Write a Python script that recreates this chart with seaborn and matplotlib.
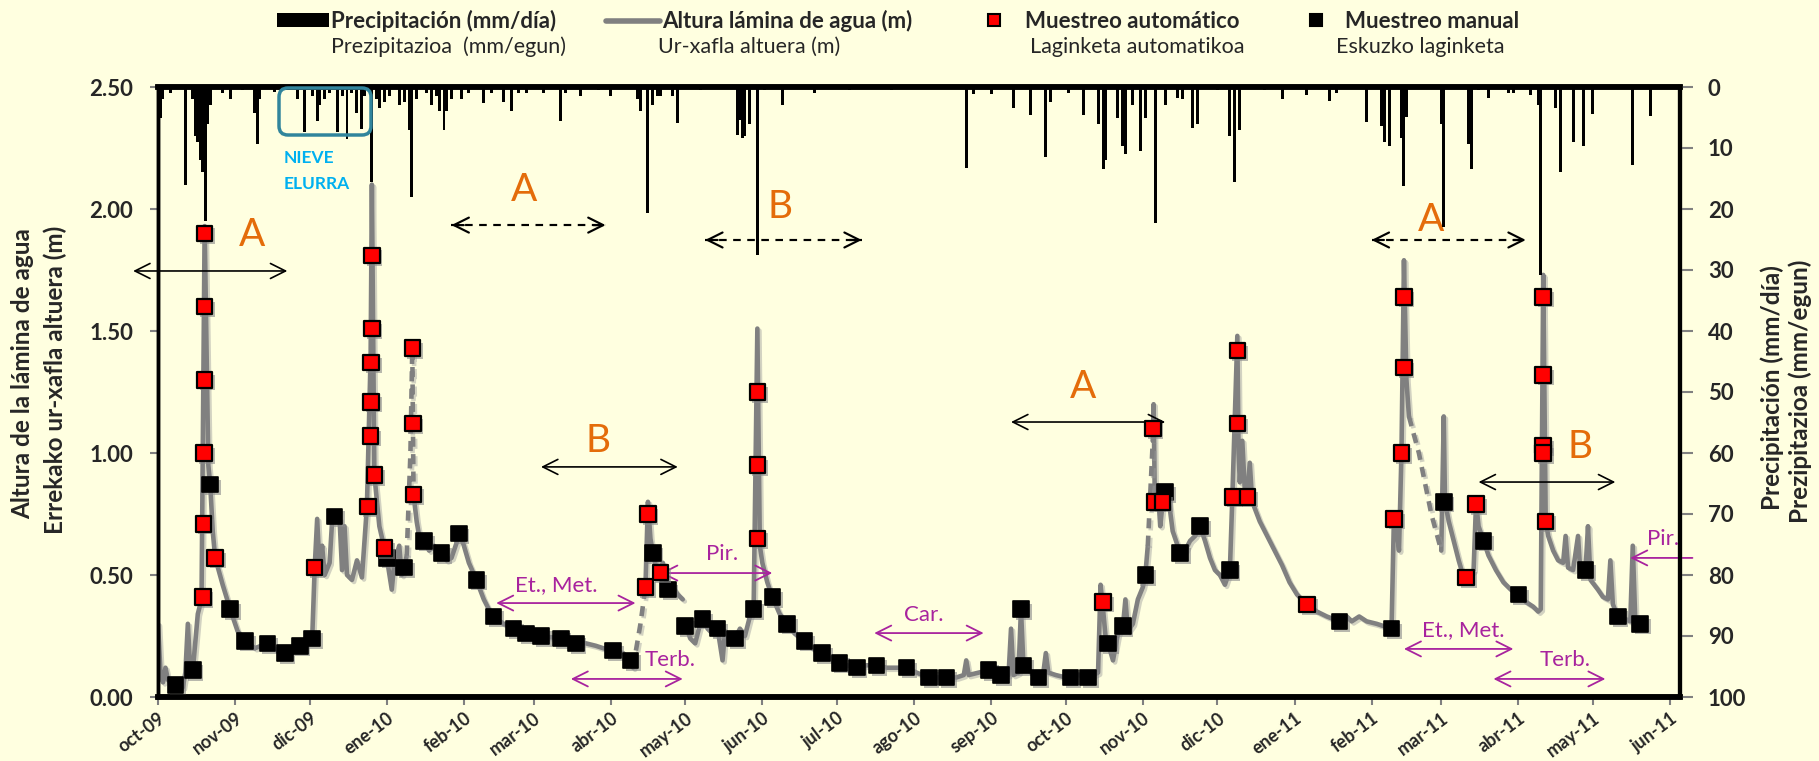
import pandas as pd
import numpy as np
import matplotlib
matplotlib.use("Agg")
import matplotlib.pyplot as plt
import matplotlib.patheffects as pe
from matplotlib.patches import FancyBboxPatch, Rectangle
from matplotlib.lines import Line2D
from matplotlib.transforms import IdentityTransform
from matplotlib import font_manager as fm
import seaborn as sns

# ------------------------------------------------------------------ data
month_ticks = pd.date_range("2009-10-01", "2011-06-01", freq="MS")
month_labels = ["oct-09", "nov-09", "dic-09", "ene-10", "feb-10", "mar-10", "abr-10",
                "may-10", "jun-10", "jul-10", "ago-10", "sep-10", "oct-10", "nov-10",
                "dic-10", "ene-11", "feb-11", "mar-11", "abr-11", "may-11", "jun-11"]

# water level (m) - solid stretches
level_dates = [
    "2009-10-01", "2009-10-02", "2009-10-03", "2009-10-04", "2009-10-05", "2009-10-08",
    "2009-10-11", "2009-10-12", "2009-10-13", "2009-10-14", "2009-10-15", "2009-10-17",
    "2009-10-18 12:00", "2009-10-19 18:00", "2009-10-21 06:00", "2009-10-22", "2009-10-23",
    "2009-10-24", "2009-10-27", "2009-10-30", "2009-11-02", "2009-11-05", "2009-11-09",
    "2009-11-14", "2009-11-18", "2009-11-21", "2009-11-24", "2009-11-27", "2009-11-30",
    "2009-12-02", "2009-12-03", "2009-12-04", "2009-12-05", "2009-12-06", "2009-12-07",
    "2009-12-09", "2009-12-10", "2009-12-11", "2009-12-13", "2009-12-14", "2009-12-15",
    "2009-12-16", "2009-12-18", "2009-12-20", "2009-12-22", "2009-12-24", "2009-12-25 12:00",
    "2009-12-26", "2009-12-27", "2009-12-29", "2009-12-31", "2010-01-01", "2010-01-03",
    "2010-01-04", "2010-01-06", "2010-01-07", "2010-01-08", "2010-01-09",
    "2010-01-11 18:00", "2010-01-13", "2010-01-14", "2010-01-16", "2010-01-18", "2010-01-20",
    "2010-01-23", "2010-01-25", "2010-01-27", "2010-01-29", "2010-01-30", "2010-02-01",
    "2010-02-03", "2010-02-06", "2010-02-09", "2010-02-11", "2010-02-13", "2010-02-17",
    "2010-02-21", "2010-02-26", "2010-03-04", "2010-03-08", "2010-03-12", "2010-03-18",
    "2010-03-22", "2010-03-26", "2010-03-29", "2010-04-02", "2010-04-06", "2010-04-09",
    "2010-04-10",
    "2010-04-15", "2010-04-16", "2010-04-17", "2010-04-18", "2010-04-20", "2010-04-21",
    "2010-04-22", "2010-04-24", "2010-04-26", "2010-04-28", "2010-04-30",
    "2010-05-01", "2010-05-03", "2010-05-05", "2010-05-07", "2010-05-08", "2010-05-10",
    "2010-05-12", "2010-05-14", "2010-05-16", "2010-05-17", "2010-05-19", "2010-05-21",
    "2010-05-23", "2010-05-25", "2010-05-27", "2010-05-28 12:00", "2010-05-30",
    "2010-05-31", "2010-06-01", "2010-06-03", "2010-06-05", "2010-06-08", "2010-06-11",
    "2010-06-14", "2010-06-18", "2010-06-21", "2010-06-25", "2010-06-28", "2010-07-02",
    "2010-07-05", "2010-07-09", "2010-07-13", "2010-07-17", "2010-07-21", "2010-07-25",
    "2010-07-29", "2010-08-02", "2010-08-07", "2010-08-10", "2010-08-14", "2010-08-18",
    "2010-08-21", "2010-08-22", "2010-08-23", "2010-08-27", "2010-08-31", "2010-09-03",
    "2010-09-05", "2010-09-08", "2010-09-09", "2010-09-10", "2010-09-12", "2010-09-13",
    "2010-09-14", "2010-09-16", "2010-09-18", "2010-09-20", "2010-09-22", "2010-09-23",
    "2010-09-24", "2010-09-27", "2010-10-01", "2010-10-03", "2010-10-06", "2010-10-10",
    "2010-10-14", "2010-10-15", "2010-10-16", "2010-10-17", "2010-10-18", "2010-10-20",
    "2010-10-22", "2010-10-24", "2010-10-25", "2010-10-26", "2010-10-28", "2010-10-30",
    "2010-11-01", "2010-11-02", "2010-11-03",
    "2010-11-05", "2010-11-05 08:00", "2010-11-05 20:00", "2010-11-07", "2010-11-08",
    "2010-11-09", "2010-11-10", "2010-11-11", "2010-11-13", "2010-11-16", "2010-11-18",
    "2010-11-20", "2010-11-22", "2010-11-24", "2010-11-26", "2010-11-28", "2010-11-30",
    "2010-12-02", "2010-12-04", "2010-12-06", "2010-12-07", "2010-12-09", "2010-12-09 12:00",
    "2010-12-10", "2010-12-11", "2010-12-12", "2010-12-13", "2010-12-14", "2010-12-15",
    "2010-12-18", "2010-12-21", "2010-12-24", "2010-12-27", "2010-12-30", "2011-01-02",
    "2011-01-06", "2011-01-10", "2011-01-14", "2011-01-19", "2011-01-22", "2011-01-24",
    "2011-01-27", "2011-01-30", "2011-02-03", "2011-02-06", "2011-02-09", "2011-02-10",
    "2011-02-11", "2011-02-12", "2011-02-13", "2011-02-14", "2011-02-15", "2011-02-16",
    "2011-03-01", "2011-03-02", "2011-03-02 12:00", "2011-03-04", "2011-03-06", "2011-03-08",
    "2011-03-10", "2011-03-12", "2011-03-14", "2011-03-15", "2011-03-16", "2011-03-18",
    "2011-03-20", "2011-03-23", "2011-03-26", "2011-03-29", "2011-04-01", "2011-04-04",
    "2011-04-07", "2011-04-09", "2011-04-10", "2011-04-11", "2011-04-12", "2011-04-13",
    "2011-04-15", "2011-04-17", "2011-04-19", "2011-04-20", "2011-04-21", "2011-04-23",
    "2011-04-25", "2011-04-26", "2011-04-28", "2011-04-29", "2011-04-30", "2011-05-03",
    "2011-05-05", "2011-05-07", "2011-05-08", "2011-05-09", "2011-05-11", "2011-05-14",
    "2011-05-16", "2011-05-17", "2011-05-18", "2011-05-20", "2011-05-21",
]
level_m = [
    0.30, 0.10, 0.06, 0.12, 0.07, 0.05, 0.04, 0.10, 0.30, 0.10, 0.11, 0.34,
    0.40, 1.93, 0.95, 0.87, 0.68, 0.57, 0.46, 0.36, 0.27, 0.23, 0.20, 0.22, 0.19, 0.17,
    0.20, 0.21, 0.25, 0.24, 0.53, 0.73, 0.52, 0.62, 0.50, 0.55, 0.72, 0.74, 0.73, 0.52,
    0.70, 0.50, 0.48, 0.56, 0.49, 0.78, 1.40, 2.10, 0.91, 0.70, 0.61, 0.57, 0.44, 0.55,
    0.62, 0.50, 0.53, 0.58,
    0.83, 0.72, 0.66, 0.64, 0.60, 0.62, 0.59, 0.56, 0.57, 0.63, 0.68, 0.62, 0.55, 0.48,
    0.40, 0.36, 0.33, 0.30, 0.28, 0.26, 0.25, 0.245, 0.24, 0.22, 0.22, 0.21, 0.20, 0.19,
    0.18, 0.15, 0.12,
    0.45, 0.80, 0.65, 0.59, 0.50, 0.51, 0.55, 0.44, 0.45, 0.42, 0.40,
    0.30, 0.24, 0.22, 0.30, 0.32, 0.28, 0.26, 0.28, 0.15, 0.27, 0.25, 0.24, 0.28, 0.25,
    0.33, 0.36, 1.51, 0.62, 0.55, 0.47, 0.41, 0.34, 0.30, 0.26, 0.23, 0.20, 0.18, 0.16,
    0.14, 0.13, 0.12, 0.13, 0.13, 0.12, 0.12, 0.12, 0.10, 0.08, 0.08, 0.08, 0.08, 0.09,
    0.15, 0.09, 0.10, 0.11, 0.10, 0.09, 0.09, 0.28, 0.09, 0.10, 0.36, 0.13, 0.11, 0.09,
    0.08, 0.10, 0.18, 0.10, 0.09, 0.08, 0.08, 0.09, 0.08, 0.10, 0.46, 0.36, 0.25, 0.22,
    0.15, 0.26, 0.29, 0.40, 0.27, 0.30, 0.40, 0.45, 0.50, 0.62,
    1.05, 1.20, 0.80, 0.86, 0.70, 0.80, 0.84, 0.84, 0.68, 0.59, 0.60, 0.64, 0.66, 0.70,
    0.64, 0.57, 0.52, 0.50, 0.46, 0.52, 0.82, 1.48, 1.00, 0.88, 1.05, 0.85, 0.82, 0.96,
    0.80, 0.72, 0.66, 0.60, 0.54, 0.47, 0.42, 0.38, 0.35, 0.33, 0.31, 0.33, 0.31, 0.33,
    0.31, 0.30, 0.29, 0.28, 0.75, 0.70, 0.60, 1.00, 1.79, 1.30, 1.15,
    0.60, 1.15, 0.80, 0.72, 0.64, 0.56, 0.49, 0.50, 0.52, 0.80, 0.70, 0.64, 0.58, 0.52,
    0.47, 0.44, 0.42, 0.39, 0.37, 0.35, 0.36, 1.73, 0.72, 0.66, 0.60, 0.56, 0.55, 0.66,
    0.53, 0.52, 0.66, 0.50, 0.52, 0.70, 0.48, 0.44, 0.41, 0.40, 0.56, 0.38, 0.33, 0.32,
    0.31, 0.62, 0.32, 0.30, 0.30,
]
# first date of each continuous (solid) stretch of the record
segment_starts = ["2009-10-01", "2010-01-11 18:00", "2010-04-15", "2010-05-01",
                  "2010-11-05", "2011-03-01"]

# water level - dashed (gap-filled) stretches
dash_dates = ["2010-01-09", "2010-01-10 12:00", "2010-01-11 06:00", "2010-01-11 18:00",
              "2010-04-10", "2010-04-13", "2010-04-15",
              "2010-11-03", "2010-11-05",
              "2011-02-16", "2011-02-20", "2011-02-25", "2011-03-01"]
dash_m = [0.58, 1.00, 1.43, 0.83,
          0.12, 0.30, 0.45,
          0.62, 1.05,
          1.15, 1.00, 0.75, 0.60]
dash_seg = [0, 0, 0, 0, 1, 1, 1, 2, 2, 3, 3, 3, 3]

# automatic sampling (red)
auto_dates = ["2009-10-19", "2009-10-19 06:00", "2009-10-19 12:00", "2009-10-19 18:00",
              "2009-10-19 18:00", "2009-10-19 18:00", "2009-10-24", "2009-12-03",
              "2009-12-24 12:00", "2009-12-25 12:00", "2009-12-25 18:00", "2009-12-25 18:00",
              "2009-12-26", "2009-12-26", "2009-12-27", "2009-12-31",
              "2010-01-11 06:00", "2010-01-11 12:00", "2010-01-11 18:00",
              "2010-04-15", "2010-04-16", "2010-04-21",
              "2010-05-30", "2010-05-30", "2010-05-30",
              "2010-10-16", "2010-11-05", "2010-11-06", "2010-11-09",
              "2010-12-07", "2010-12-09", "2010-12-09", "2010-12-13",
              "2011-01-06", "2011-02-10", "2011-02-13", "2011-02-14", "2011-02-14",
              "2011-03-11", "2011-03-15", "2011-04-11", "2011-04-11", "2011-04-11",
              "2011-04-11", "2011-04-12"]
auto_m = [0.41, 0.71, 1.00, 1.30, 1.60, 1.90, 0.57, 0.53,
          0.78, 1.07, 1.21, 1.37, 1.51, 1.81, 0.91, 0.61,
          1.43, 1.12, 0.83,
          0.45, 0.75, 0.51,
          0.65, 0.95, 1.25,
          0.39, 1.10, 0.80, 0.80,
          0.82, 1.42, 1.12, 0.82,
          0.38, 0.73, 1.00, 1.35, 1.64,
          0.49, 0.79, 1.64, 1.32, 1.03,
          1.00, 0.72]

# manual sampling (black)
man_dates = ["2009-10-08", "2009-10-15", "2009-10-22", "2009-10-30", "2009-11-05",
             "2009-11-14", "2009-11-21", "2009-11-27", "2009-12-02", "2009-12-11",
             "2010-01-01", "2010-01-08", "2010-01-16", "2010-01-23", "2010-01-30",
             "2010-02-06", "2010-02-13", "2010-02-21", "2010-02-26", "2010-03-04",
             "2010-03-12", "2010-03-18", "2010-04-02", "2010-04-09", "2010-04-18",
             "2010-04-24", "2010-05-01", "2010-05-08", "2010-05-14", "2010-05-21",
             "2010-05-28 12:00", "2010-06-05", "2010-06-11", "2010-06-18", "2010-06-25",
             "2010-07-02", "2010-07-09", "2010-07-17", "2010-07-29", "2010-08-07",
             "2010-08-14", "2010-08-31", "2010-09-05", "2010-09-13", "2010-09-14",
             "2010-09-20", "2010-10-03", "2010-10-10", "2010-10-18", "2010-10-24",
             "2010-11-02", "2010-11-10", "2010-11-16", "2010-11-24", "2010-12-06",
             "2011-01-19", "2011-02-09", "2011-03-02", "2011-03-18", "2011-04-01",
             "2011-04-28", "2011-05-11", "2011-05-20"]
man_m = [0.05, 0.11, 0.87, 0.36, 0.23, 0.22, 0.18, 0.21, 0.24, 0.74,
         0.57, 0.53, 0.64, 0.59, 0.67, 0.48, 0.33, 0.28, 0.26, 0.25,
         0.24, 0.22, 0.19, 0.15, 0.59, 0.44, 0.29, 0.32, 0.28, 0.24,
         0.36, 0.41, 0.30, 0.23, 0.18, 0.14, 0.12, 0.13, 0.12, 0.08,
         0.08, 0.11, 0.09, 0.36, 0.13, 0.08, 0.08, 0.08, 0.22, 0.29,
         0.50, 0.84, 0.59, 0.70, 0.52, 0.31, 0.28, 0.80, 0.64, 0.42,
         0.52, 0.33, 0.30]

# daily precipitation (mm/dia)
prec_dates = ["2009-10-01", "2009-10-02", "2009-10-03", "2009-10-06", "2009-10-12",
              "2009-10-15", "2009-10-16", "2009-10-17", "2009-10-18", "2009-10-19",
              "2009-10-20", "2009-10-21", "2009-10-22", "2009-10-27", "2009-10-30",
              "2009-11-04", "2009-11-09", "2009-11-10", "2009-11-11", "2009-11-17",
              "2009-11-26", "2009-11-29", "2009-12-02", "2009-12-04", "2009-12-05",
              "2009-12-07", "2009-12-09", "2009-12-12", "2009-12-14", "2009-12-16",
              "2009-12-18", "2009-12-20", "2009-12-22", "2009-12-23", "2009-12-26",
              "2009-12-28", "2009-12-29", "2009-12-31", "2010-01-02", "2010-01-06",
              "2010-01-08", "2010-01-10", "2010-01-11", "2010-01-13", "2010-01-17",
              "2010-01-19", "2010-01-21", "2010-01-22", "2010-01-24", "2010-01-25",
              "2010-01-27", "2010-01-31", "2010-02-03", "2010-02-09", "2010-02-12",
              "2010-02-17", "2010-02-20", "2010-02-23", "2010-02-26", "2010-03-05",
              "2010-03-12", "2010-03-14", "2010-03-20", "2010-03-27", "2010-04-01",
              "2010-04-12", "2010-04-13", "2010-04-16", "2010-04-18", "2010-04-20",
              "2010-04-21", "2010-04-26", "2010-04-28", "2010-05-07", "2010-05-22",
              "2010-05-23", "2010-05-24", "2010-05-25", "2010-05-27", "2010-05-30",
              "2010-06-02", "2010-06-09", "2010-06-22", "2010-07-06", "2010-07-23",
              "2010-08-22", "2010-08-25", "2010-09-01", "2010-09-10", "2010-09-17",
              "2010-09-23", "2010-09-25", "2010-10-02", "2010-10-08", "2010-10-14",
              "2010-10-16", "2010-10-17", "2010-10-22", "2010-10-24", "2010-10-25",
              "2010-10-28", "2010-10-31", "2010-11-02", "2010-11-06", "2010-11-10",
              "2010-11-15", "2010-11-17", "2010-11-21", "2010-11-23", "2010-12-01",
              "2010-12-06", "2010-12-08", "2010-12-10", "2010-12-20", "2010-12-27",
              "2011-01-06", "2011-01-15", "2011-01-18", "2011-01-30", "2011-02-05",
              "2011-02-06", "2011-02-08", "2011-02-13", "2011-02-14", "2011-02-15",
              "2011-03-01", "2011-03-02", "2011-03-12", "2011-03-13", "2011-03-16",
              "2011-03-20", "2011-03-28", "2011-03-30", "2011-04-06", "2011-04-09",
              "2011-04-10", "2011-04-16", "2011-04-18", "2011-04-23", "2011-04-27",
              "2011-05-01", "2011-05-17", "2011-05-24"]
prec_mm = [20.0, 5.0, 2.0, 1.0, 16.0,
           2.0, 8.0, 9.0, 12.0, 14.0,
           22.0, 6.0, 3.0, 1.0, 2.0,
           0.5, 4.3, 9.4, 2.0, 0.8,
           2.0, 7.4, 1.5, 5.6, 3.0,
           2.0, 1.0, 7.4, 1.5, 8.6,
           1.0, 4.2, 6.9, 1.5, 15.6,
           2.0, 3.5, 2.5, 1.5, 3.0,
           2.5, 7.0, 18.0, 2.0, 1.0,
           3.0, 1.5, 4.0, 7.0, 4.0,
           2.0, 2.0, 1.0, 2.7, 1.0,
           2.5, 4.0, 1.0, 1.0, 1.0,
           5.6, 1.0, 1.5, 0.5, 1.5,
           2.0, 4.0, 20.7, 3.0, 1.5,
           1.5, 1.5, 5.9, 0.5, 7.8,
           5.4, 8.3, 8.0, 6.0, 27.5,
           0.5, 2.9, 1.0, 0.5, 0.5,
           13.3, 1.2, 1.2, 3.5, 4.6,
           11.5, 2.5, 1.0, 4.6, 6.0,
           13.4, 12.0, 5.0, 9.6, 11.0,
           3.0, 10.5, 5.0, 22.3, 3.0,
           1.8, 2.0, 6.7, 6.0, 0.5,
           8.0, 15.6, 7.0, 0.5, 2.0,
           1.3, 2.3, 1.0, 5.8, 6.4,
           9.0, 9.7, 8.4, 16.2, 4.9,
           6.0, 22.9, 9.4, 13.4, 0.5,
           1.8, 1.0, 1.0, 1.3, 3.0,
           30.8, 3.5, 14.0, 9.0, 9.6,
           4.4, 12.8, 4.8]

# ------------------------------------------------------------------ style
W, H = 1819, 761
BG = "#FFFFE0"
GREY = "#808080"
ORANGE = "#E46C0A"
MAGENTA = "#A8239E"
ISO = "ISO8601"

sns.set_theme(style="white")
_avail = {f.name for f in fm.fontManager.ttflist}
NARROW = "Liberation Sans Narrow" if "Liberation Sans Narrow" in _avail else "Lato"
plt.rcParams["font.family"] = ["Lato", "DejaVu Sans"]

fig = plt.figure(figsize=(W / 100, H / 100), dpi=100, facecolor=BG)
L, R, T, B = 158, 1680, 87, 697
ax = fig.add_axes([L / W, 1 - B / H, (R - L) / W, (B - T) / H])
ax.set_facecolor(BG)

# water level line
lvl_t = pd.to_datetime(level_dates, format=ISO)
seg_ids = np.searchsorted(pd.to_datetime(segment_starts, format=ISO).values, lvl_t.values,
                          side="right") - 1
lvl = pd.DataFrame({"fecha": lvl_t, "m": level_m, "seg": seg_ids})
dsh = pd.DataFrame({"fecha": pd.to_datetime(dash_dates, format=ISO), "m": dash_m, "seg": dash_seg})
shadow = [pe.SimpleLineShadow(offset=(1.5, -1.5), shadow_color="#9c9c9c", alpha=0.45), pe.Normal()]
n0 = len(ax.lines)
sns.lineplot(data=lvl, x="fecha", y="m", units="seg", estimator=None, sort=False,
             color=GREY, lw=3.3, ax=ax, legend=False)
n1 = len(ax.lines)
sns.lineplot(data=dsh, x="fecha", y="m", units="seg", estimator=None, sort=False,
             color=GREY, lw=3.3, ax=ax, legend=False)
for i, ln in enumerate(ax.lines[n0:]):
    ln.set_path_effects(shadow)
    if n0 + i >= n1:
        ln.set_linestyle((0, (2.2, 1.6)))

# sampling markers
auto = pd.DataFrame({"fecha": pd.to_datetime(auto_dates, format=ISO), "m": auto_m})
man = pd.DataFrame({"fecha": pd.to_datetime(man_dates, format=ISO), "m": man_m})
mshadow = [pe.SimplePatchShadow(offset=(2, -2), shadow_rgbFace="#8a8a8a", alpha=0.6), pe.Normal()]
sns.scatterplot(data=man, x="fecha", y="m", marker="s", s=125, color="black",
                edgecolor="black", linewidth=1.2, ax=ax, zorder=5, legend=False)
ax.collections[-1].set_path_effects(mshadow)
sns.scatterplot(data=auto, x="fecha", y="m", marker="s", s=125, color="#FF0000",
                edgecolor="black", linewidth=1.6, ax=ax, zorder=6, legend=False)
ax.collections[-1].set_path_effects(mshadow)

XMIN, XMAX = pd.Timestamp("2009-10-01"), pd.Timestamp("2011-06-05")
ax.set_xlim(XMIN, XMAX)
ax.set_ylim(0, 2.5)
ax.set_xlabel("")
ax.set_ylabel("")
ax.set_yticks(np.arange(0, 2.51, 0.5))
ax.set_yticklabels([f"{v:.2f}" for v in np.arange(0, 2.51, 0.5)], fontsize=16, fontweight="bold")
ax.set_xticks(month_ticks)
ax.set_xticklabels(month_labels, rotation=37, ha="right", va="top", rotation_mode="anchor",
                   fontsize=13, fontweight="bold")
ax.tick_params(axis="y", direction="out", length=6, width=1.5, color="#808080", pad=12, left=True)
ax.tick_params(axis="x", direction="out", length=6, width=1.5, color="#808080", pad=3, bottom=True)
ax.grid(False)

# precipitation on secondary axis (inverted)
ax2 = ax.twinx()
ax2.patch.set_visible(False)
ax2.bar(pd.to_datetime(prec_dates, format=ISO), prec_mm, width=1.2, color="black",
        linewidth=0, align="center")
ax2.set_ylim(100, 0)
ax2.set_xlim(XMIN, XMAX)
ax2.set_yticks(np.arange(0, 101, 10))
ax2.set_yticklabels([str(v) for v in range(0, 101, 10)], fontsize=16, fontweight="bold")
ax2.tick_params(axis="y", direction="out", length=9, width=1.5, color="#808080", pad=11, right=True)
ax2.grid(False)
ax2.set_ylabel("")

for a in (ax, ax2):
    for s in a.spines.values():
        s.set_color("black")
    a.spines["left"].set_linewidth(2.5)
    a.spines["right"].set_linewidth(3)
    a.spines["bottom"].set_linewidth(4)
    a.spines["top"].set_linewidth(4)

# axis titles
lab_kw = dict(rotation=90, ha="center", va="center", fontsize=17.5, fontweight="bold")
fig.text(23 / W, 1 - 374 / H, "Altura de la lámina de agua", **lab_kw)
fig.text(55 / W, 1 - 380 / H, "Errekako ur-xafla altuera (m)", **lab_kw)
fig.text(1772 / W, 1 - 388 / H, "Precipitación (mm/día)", **lab_kw)
fig.text(1800 / W, 1 - 391 / H, "Prezipitazioa (mm/egun)", **lab_kw)

# legend (top)
fig.add_artist(Rectangle((277 / W, 1 - 27 / H), 52 / W, 14 / H, transform=fig.transFigure,
                         facecolor="black", edgecolor="none"))
fig.add_artist(Line2D([606 / W, 660 / W], [1 - 21 / H, 1 - 21 / H], transform=fig.transFigure,
                      color=GREY, lw=4))
fig.add_artist(Line2D([994 / W], [1 - 20 / H], transform=fig.transFigure, marker="s", ms=9,
                      mfc="#FF0000", mec="black", mew=1.5, ls="none"))
fig.add_artist(Line2D([1316 / W], [1 - 20 / H], transform=fig.transFigure, marker="s", ms=9,
                      mfc="black", mec="black", mew=1.5, ls="none"))
leg_es = [(331, "Precipitación (mm/día)"), (662, "Altura lámina de agua (m)"),
          (1025, "Muestreo automático"), (1345, "Muestreo manual")]
for x, t in leg_es:
    fig.text(x / W, 1 - 21 / H, t, ha="left", va="center", fontsize=16, fontweight="bold",
             family=[NARROW, "DejaVu Sans"])
leg_eu = [(331, "Prezipitazioa  (mm/egun)"), (658, "Ur-xafla altuera (m)"),
          (1030, "Laginketa automatikoa"), (1336, "Eskuzko laginketa")]
for x, t in leg_eu:
    fig.text(x / W, 1 - 47 / H, t, ha="left", va="center", fontsize=15.5)

# snow box
fig.add_artist(FancyBboxPatch((279, H - 135), 92, 47, boxstyle="round,pad=0,rounding_size=9",
                              transform=IdentityTransform(), facecolor="none",
                              edgecolor="#31859C", lw=2.5))
fig.text(284 / W, 1 - 158 / H, "NIEVE", ha="left", va="center", fontsize=12.5,
         fontweight="bold", color="#00B0F0")
fig.text(284 / W, 1 - 184 / H, "ELURRA", ha="left", va="center", fontsize=12.5,
         fontweight="bold", color="#00B0F0")

T_ = pd.Timestamp


def darrow(x0, x1, y, color="black", dashed=False, lw=1.2):
    if dashed:
        ax.plot([T_(x0), T_(x1)], [y, y], color=color, lw=lw * 1.3, ls=(0, (3.5, 3)), clip_on=False)
        for xa, xb in ((x0, x1), (x1, x0)):
            ax.annotate("", xy=(T_(xa), y), xytext=(T_(xa) + (T_(xb) - T_(xa)) * 0.08, y),
                        arrowprops=dict(arrowstyle="->,head_length=0.9,head_width=0.45",
                                        color=color, lw=lw * 1.3, shrinkA=0, shrinkB=0),
                        annotation_clip=False)
    else:
        ax.annotate("", xy=(T_(x1), y), xytext=(T_(x0), y),
                    arrowprops=dict(arrowstyle="<->,head_length=0.9,head_width=0.45",
                                    color=color, lw=lw, shrinkA=0, shrinkB=0),
                    annotation_clip=False)


# regime arrows & letters
darrow("2009-09-21", "2009-11-22", 1.746)
darrow("2010-01-27", "2010-03-30", 1.934, dashed=True)
darrow("2010-05-09", "2010-07-11", 1.873, dashed=True)
darrow("2011-02-01", "2011-04-04", 1.873, dashed=True)
darrow("2010-09-09", "2010-11-10", 1.127)
darrow("2010-03-04", "2010-04-28", 0.943)
darrow("2011-03-16", "2011-05-10", 0.881)
letters = [("2009-11-08", 1.893, "A"), ("2010-02-25", 2.078, "A"), ("2010-06-08", 2.008, "B"),
           ("2010-10-08", 1.27, "A"), ("2010-03-27", 1.05, "B"), ("2011-02-25", 1.955, "A"),
           ("2011-04-26", 1.025, "B")]
for d, y, t in letters:
    ax.text(T_(d), y, t, color=ORANGE, fontsize=28, ha="center", va="center")

# parameter periods (magenta)
periods = [("2010-02-14", "2010-04-11", 0.385, "2010-03-10", 0.459, "Et., Met."),
           ("2010-03-16", "2010-04-30", 0.074, "2010-04-25", 0.152, "Terb."),
           ("2010-04-21", "2010-06-05", 0.508, "2010-05-16", 0.586, "Pir."),
           ("2010-07-16", "2010-08-29", 0.262, "2010-08-05", 0.336, "Car."),
           ("2011-02-14", "2011-03-30", 0.197, "2011-03-10", 0.275, "Et., Met."),
           ("2011-03-22", "2011-05-06", 0.074, "2011-04-20", 0.152, "Terb.")]
for x0, x1, y, xt, yt, t in periods:
    darrow(x0, x1, y, color=MAGENTA, lw=1.3)
    ax.text(T_(xt), yt, t, color=MAGENTA, fontsize=16, ha="center", va="center")
ax.annotate("", xy=(T_("2011-05-16"), 0.57), xytext=(T_("2011-06-10"), 0.57),
            arrowprops=dict(arrowstyle="->,head_length=0.9,head_width=0.45", color=MAGENTA,
                            lw=1.3, shrinkA=0, shrinkB=0), annotation_clip=False)
ax.text(T_("2011-05-29"), 0.648, "Pir.", color=MAGENTA, fontsize=16, ha="center", va="center")

fig.savefig("out.png", dpi=100, facecolor=BG)
